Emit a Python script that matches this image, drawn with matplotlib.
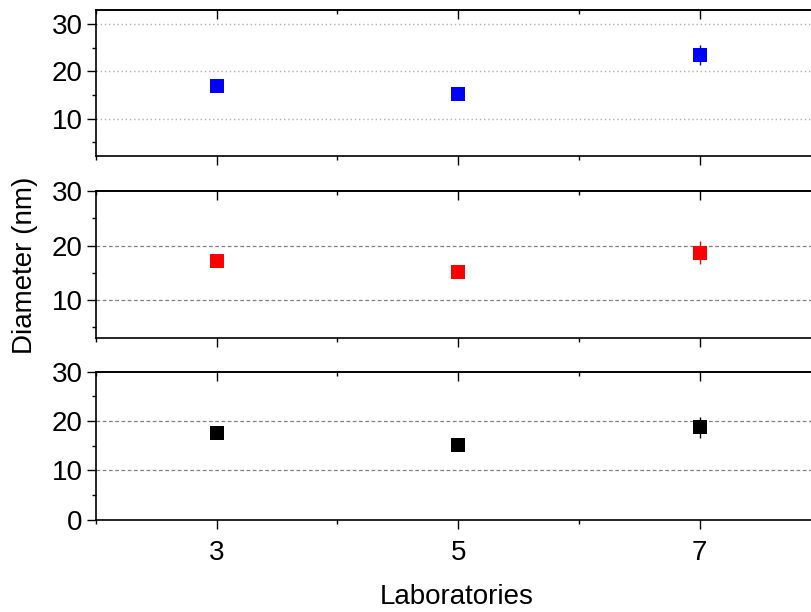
#!/usr/bin/env python3
# -*- coding: utf-8 -*-

import matplotlib
matplotlib.use('Agg')
import matplotlib.pyplot as plt
from matplotlib.ticker import MultipleLocator

# data
labs = [3, 5, 7]
blue_mean = [17.0, 15.1, 23.4]
blue_err = [0.6, 0.5, 2.1]
red_mean = [17.1, 15.1, 18.7]
red_err = [0.4, 0.8, 2.1]
black_mean = [17.5, 15.1, 18.7]
black_err = [0.4, 0.4, 2.1]

y_ticks = [10, 20, 30]
y_ticks_bottom = [0, 10, 20, 30]


def style_axes(ax, ylim, yticks, show_xlabels):
    """common axis look"""
    ax.set_xlim(2, 8)
    ax.set_ylim(*ylim)
    ax.set_yticks(yticks)
    ax.yaxis.set_minor_locator(MultipleLocator(5))
    ax.set_xticks(labs)
    ax.xaxis.set_minor_locator(MultipleLocator(1))
    ax.tick_params(axis='y', which='major', direction='out', length=6.5, width=1.0,
                   labelsize=20, pad=3)
    ax.tick_params(axis='y', which='minor', direction='out', length=3, width=1.0)
    ax.tick_params(axis='x', which='major', direction='out', length=6.5, width=1.0,
                   labelsize=20, pad=8, labelbottom=show_xlabels)
    ax.tick_params(axis='x', which='minor', direction='out', length=3, width=1.0)
    ax.tick_params(axis='y', which='both', right=False)
    for side in ['left', 'right', 'top', 'bottom']:
        ax.spines[side].set_linewidth(1.2)
    # top ticks point inward, no labels
    sec = ax.secondary_xaxis('top')
    sec.set_xticks(labs)
    sec.xaxis.set_minor_locator(MultipleLocator(1))
    sec.tick_params(axis='x', which='major', direction='in', length=6.5, width=1.0, labeltop=False)
    sec.tick_params(axis='x', which='minor', direction='in', length=3, width=1.0)
    sec.spines['top'].set_linewidth(1.2)


def plot_series(ax, mean, err, color):
    ax.errorbar(labs, mean, yerr=err, fmt='s', color=color, ecolor=color,
                markersize=10.5, capsize=3.8, elinewidth=1.0, capthick=1.5,
                markeredgewidth=0, zorder=3)


def main():
    plt.rcParams['font.family'] = ['Liberation Sans', 'DejaVu Sans']

    fig = plt.figure(figsize=(8.12, 6.12), dpi=100)
    left, width = 0.1182, 0.8923
    ax1 = fig.add_axes([left, 0.7446, width, 0.2390])
    ax2 = fig.add_axes([left, 0.4472, width, 0.2407])
    ax3 = fig.add_axes([left, 0.1511, width, 0.2415])

    # top panel: blue, dotted grid
    for y in [10, 20, 30]:
        ax1.axhline(y, color='#b0b0b0', linestyle=(0, (1, 2)), linewidth=1.0, zorder=1)
    plot_series(ax1, blue_mean, blue_err, '#0000ff')
    style_axes(ax1, (2, 33), y_ticks, False)

    # middle panel: red, dashed grid
    for y in [10, 20]:
        ax2.axhline(y, color='#808080', linestyle=(0, (3, 2)), linewidth=0.9, zorder=1)
    plot_series(ax2, red_mean, red_err, '#ff0000')
    style_axes(ax2, (3, 30), y_ticks, False)

    # bottom panel: black, dashed grid
    for y in [10, 20]:
        ax3.axhline(y, color='#808080', linestyle=(0, (3, 2)), linewidth=0.9, zorder=1)
    plot_series(ax3, black_mean, black_err, '#000000')
    style_axes(ax3, (0, 30), y_ticks_bottom, True)

    fig.text(0.031, 0.567, 'Diameter (nm)', rotation=90, ha='center', va='center', fontsize=20)
    fig.text(0.5628, 0.0245, 'Laboratories', ha='center', va='center', fontsize=20)

    fig.savefig('out.png', dpi=100)
    plt.close(fig)


if __name__ == "__main__":
    main()
